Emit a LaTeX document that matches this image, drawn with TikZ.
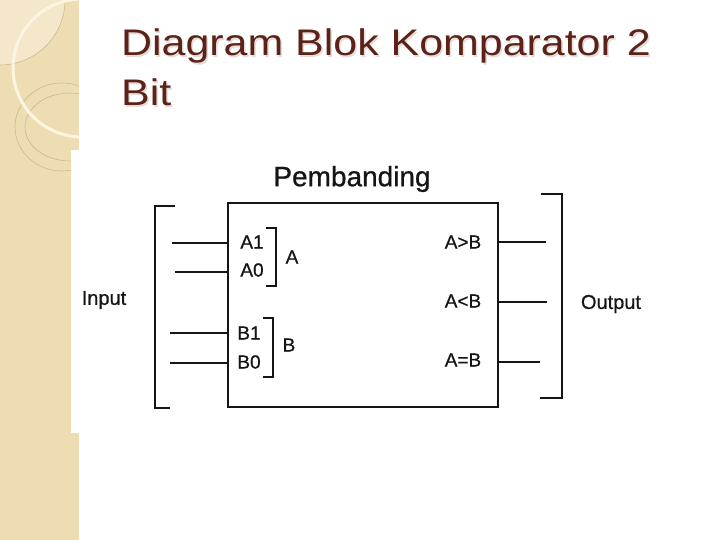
\documentclass[tikz,border=0pt]{standalone}
\usepackage{fontspec}
\setmainfont{Liberation Sans}
\newfontfamily\titlefont[FakeStretch=1.16]{Liberation Sans}
\newfontfamily\scanfont[FakeBold=0.7]{Liberation Sans}
\definecolor{beige}{HTML}{EEDCB2}
\definecolor{lightbeige}{HTML}{F4E7CA}
\definecolor{cream}{HTML}{FCF5E2}
\definecolor{ringc}{HTML}{CDBA8E}
\definecolor{titlec}{HTML}{5C2217}
\definecolor{shadowc}{HTML}{E3DDDA}
\definecolor{ink}{HTML}{151515}
\begin{document}
\begin{tikzpicture}[x=1pt,y=-1pt,
  wire/.style={draw=ink,line width=1.7pt},
  lbl/.style={text=ink,inner sep=0pt,font=\scanfont\fontsize{19}{19}\selectfont},
  big/.style={text=ink,inner sep=0pt,font=\scanfont\fontsize{20}{20}\selectfont},
  ttl/.style={anchor=base west,inner sep=0pt,font=\titlefont\fontsize{37}{37}\selectfont}]
\useasboundingbox (0,0) rectangle (720,540);
% background
\fill[white] (0,0) rectangle (720,540);
\fill[beige] (0,0) rectangle (79,540);
\begin{scope}
  \clip (0,0) rectangle (79,540);
  \fill[lightbeige] (0,0) circle (65);
  \draw[ringc,line width=0.6pt] (0,0) circle (65);
  \draw[ringc,line width=0.6pt] (62,127) ellipse [x radius=47, y radius=44];
  \draw[ringc,line width=0.6pt] (70,127) ellipse [x radius=45, y radius=34];
  \draw[cream,line width=3pt] (82,68) circle (69);
\end{scope}
\fill[white] (71,150) rectangle (720,433);
% title
\node[ttl,text=shadowc] (t1s) at (122.5,57.5) {Diagram Blok Komparator 2};
\node[ttl,text=shadowc] (t2s) at (122.5,107.5) {Bit};
\node[ttl,text=titlec] (t1) at (121,56) {Diagram Blok Komparator 2};
\node[ttl,text=titlec] (t2) at (121,106) {Bit};
% block
\node[draw=ink,line width=1.7pt,minimum width=270pt,minimum height=204pt,inner sep=0pt] (box) at (363,305) {};
\node[text=ink,inner sep=0pt,font=\scanfont\fontsize{28}{28}\selectfont] (pb) at (352,179) {Pembanding};
% input labels
\node[lbl] (a1) at (252,242) {A1};
\node[lbl] (a0) at (252,270) {A0};
\node[lbl] (b1) at (249,333) {B1};
\node[lbl] (b0) at (249,362) {B0};
\node[lbl] (la) at (292,257) {A};
\node[lbl] (lb) at (289,345) {B};
\draw[wire,line width=1.5pt] (266,228) -- (276,228) -- (276,286) -- (266,286);
\draw[wire,line width=1.5pt] (263,318) -- (273,318) -- (273,377) -- (263,377);
% output labels
\node[lbl] (gt) at (463,242) {A>B};
\node[lbl] (lt) at (463,301) {A<B};
\node[lbl] (eq) at (463,360) {A=B};
% input wires
\coordinate (i1) at (172,243);
\coordinate (i2) at (175,272);
\coordinate (i3) at (170,333);
\coordinate (i4) at (170,363);
\draw[wire] (i1) -- (i1 -| box.west);
\draw[wire] (i2) -- (i2 -| box.west);
\draw[wire] (i3) -- (i3 -| box.west);
\draw[wire] (i4) -- (i4 -| box.west);
% output wires
\coordinate (o1) at (546,242);
\coordinate (o2) at (547,302);
\coordinate (o3) at (540,362);
\draw[wire] (o1 -| box.east) -- (o1);
\draw[wire] (o2 -| box.east) -- (o2);
\draw[wire] (o3 -| box.east) -- (o3);
% brackets
\coordinate (lbt) at (175,206);
\coordinate (lbb) at (170,408);
\draw[wire] (lbt) -- (155,206) -- (155,408) -- (lbb);
\coordinate (rbt) at (541,194);
\coordinate (rbb) at (540,398);
\draw[wire] (rbt) -- (562,194) -- (562,398) -- (rbb);
\node[big] (inp) at (104,300) {Input};
\node[big] (outp) at (611,304) {Output};
\end{tikzpicture}
\end{document}
